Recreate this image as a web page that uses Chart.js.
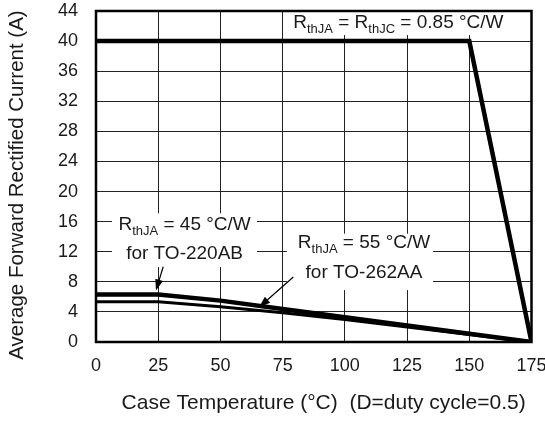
<!DOCTYPE html>
<html><head><meta charset="utf-8">
<script src="https://cdn.jsdelivr.net/npm/chart.js@4/dist/chart.umd.min.js"></script>
<style>html,body{margin:0;padding:0;background:#fff}#wrap{width:545px;height:422px}</style>
</head><body><div id="wrap"><canvas id="c"></canvas></div>
<script>
// ---- data ----
const temperature = [0, 25, 50, 75, 100, 125, 150, 175];
const currentRthJC = [40, 40, 40, 40, 40, 40, 40, 0];
const current45 = [6.3, 6.3, 5.5, 4.4, 3.3, 2.2, 1.1, 0];
const current55 = [5.35, 5.35, 4.7, 3.9, 3.0, 2.0, 1.0, 0];
const xTickValues = [0, 25, 50, 75, 100, 125, 150, 175];
const yTickValues = [0, 4, 8, 12, 16, 20, 24, 28, 32, 36, 40, 44];
const xTitle = 'Case Temperature (°C)  (D=duty cycle=0.5) ';
const yTitle = 'Average Forward Rectified Current (A)   ';
// label texts: [text, isSubscript]
const labelJC = [['R', 0], ['thJA', 1], [' = ', 0], ['R', 0], ['thJC', 1], [' = 0.85 °C/W', 0]];
const label45a = [['R', 0], ['thJA', 1], [' = 45 °C/W', 0]];
const label45b = [['for TO-220AB', 0]];
const label55a = [['R', 0], ['thJA', 1], [' = 55 °C/W', 0]];
const label55b = [['for TO-262AA', 0]];

const FAMILY = '"Liberation Sans", Arial, Helvetica, sans-serif';
const TXT = '#1a1a1a';

// annotation layout (in data coordinates)
const boxes = [
  [78.8, 44, 164.7, 40.8],
  [6.4, 17.1, 64.7, 9.97],
  [76.7, 14.4, 135.4, 6.9]
];
const texts = [
  {parts: labelJC, x: 121.5, y: 41.7},
  {parts: label45a, x: 35.6, y: 14.9},
  {parts: label45b, x: 35.6, y: 11.0},
  {parts: label55a, x: 107.7, y: 12.46},
  {parts: label55b, x: 107.7, y: 8.47}
];
const arrows = [
  {from: [27.0, 10.0], to: [24.1, 6.85]},
  {from: [79.3, 8.64], to: [65.6, 4.65]}
];

function fontFor(sub) { return (sub ? '13px ' : '19px ') + FAMILY; }
function drawRich(ctx, parts, cx, by) {
  let w = 0;
  parts.forEach(p => { ctx.font = fontFor(p[1]); w += ctx.measureText(p[0]).width; });
  let xx = cx - w / 2;
  parts.forEach(p => {
    ctx.font = fontFor(p[1]);
    ctx.fillText(p[0], xx, by + (p[1] ? 5 : 0));
    xx += ctx.measureText(p[0]).width;
  });
}
function drawArrow(ctx, x1, y1, x2, y2) {
  const ang = Math.atan2(y2 - y1, x2 - x1);
  const L = 11, H = 4;
  ctx.beginPath();
  ctx.moveTo(x1, y1);
  ctx.lineTo(x2 - Math.cos(ang) * L * 0.8, y2 - Math.sin(ang) * L * 0.8);
  ctx.stroke();
  ctx.beginPath();
  ctx.moveTo(x2, y2);
  ctx.lineTo(x2 - Math.cos(ang) * L + Math.sin(ang) * H, y2 - Math.sin(ang) * L - Math.cos(ang) * H);
  ctx.lineTo(x2 - Math.cos(ang) * L - Math.sin(ang) * H, y2 - Math.sin(ang) * L + Math.cos(ang) * H);
  ctx.closePath();
  ctx.fill();
}

const annot = {
  id: 'annot',
  beforeDatasetsDraw(chart) {
    const {ctx, scales: {x, y}} = chart;
    ctx.save();
    ctx.fillStyle = '#fff';
    boxes.forEach(b => {
      const x0 = x.getPixelForValue(b[0]), x1 = x.getPixelForValue(b[2]);
      const y0 = y.getPixelForValue(b[1]), y1 = y.getPixelForValue(b[3]);
      ctx.fillRect(x0, y0, x1 - x0, y1 - y0);
    });
    ctx.restore();
  },
  afterDatasetsDraw(chart) {
    const {ctx, chartArea: a, scales: {x, y}} = chart;
    ctx.save();
    ctx.strokeStyle = '#000';
    ctx.lineWidth = 2.5;
    ctx.strokeRect(a.left, a.top, a.right - a.left, a.bottom - a.top);
    ctx.fillStyle = TXT;
    ctx.textAlign = 'left';
    ctx.textBaseline = 'alphabetic';
    texts.forEach(t => drawRich(ctx, t.parts, x.getPixelForValue(t.x), y.getPixelForValue(t.y)));
    ctx.strokeStyle = '#000';
    ctx.fillStyle = '#000';
    ctx.lineWidth = 1.2;
    arrows.forEach(r => drawArrow(ctx,
      x.getPixelForValue(r.from[0]), y.getPixelForValue(r.from[1]),
      x.getPixelForValue(r.to[0]), y.getPixelForValue(r.to[1])));
    ctx.restore();
  }
};

const pts = arr => temperature.map((t, i) => ({x: t, y: arr[i]}));
const noPad = s => { s.paddingTop = 0; s.paddingBottom = 0; s.paddingLeft = 0; s.paddingRight = 0; };

new Chart(document.getElementById('c'), {
  type: 'line',
  data: {
    datasets: [
      {label: 'RthJA = RthJC = 0.85 °C/W', data: pts(currentRthJC), borderColor: '#000', borderWidth: 4.5, pointRadius: 0, tension: 0, borderJoinStyle: 'miter'},
      {label: 'RthJA = 45 °C/W (TO-220AB)', data: pts(current45), borderColor: '#000', borderWidth: 4.5, pointRadius: 0, tension: 0},
      {label: 'RthJA = 55 °C/W (TO-262AA)', data: pts(current55), borderColor: '#000', borderWidth: 3, pointRadius: 0, tension: 0}
    ]
  },
  options: {
    responsive: true,
    maintainAspectRatio: false,
    animation: false,
    layout: {padding: {top: 11, right: 13.5, left: 0, bottom: 0}},
    plugins: {legend: {display: false}, tooltip: {enabled: false}},
    scales: {
      x: {
        type: 'linear', min: 0, max: 175,
        afterBuildTicks: s => { s.ticks = xTickValues.map(v => ({value: v})); },
        afterFit: s => { s.height = 80; noPad(s); },
        grid: {color: '#222', lineWidth: 1, drawTicks: false},
        border: {display: false},
        ticks: {padding: 13, color: TXT, font: {family: FAMILY, size: 18}, maxRotation: 0},
        title: {display: true, text: xTitle, align: 'end', color: TXT, font: {family: FAMILY, size: 21}, padding: {top: 0, bottom: 6}}
      },
      y: {
        type: 'linear', min: 0, max: 44,
        afterBuildTicks: s => { s.ticks = yTickValues.map(v => ({value: v})); },
        afterFit: s => { s.width = 96; noPad(s); },
        grid: {color: '#222', lineWidth: 1, drawTicks: false},
        border: {display: false},
        ticks: {padding: 18, color: TXT, font: {family: FAMILY, size: 18}},
        title: {display: true, text: yTitle, color: TXT, font: {family: FAMILY, size: 20.5}, padding: {top: 5, bottom: 0}}
      }
    }
  },
  plugins: [annot]
});
</script>
</body></html>
